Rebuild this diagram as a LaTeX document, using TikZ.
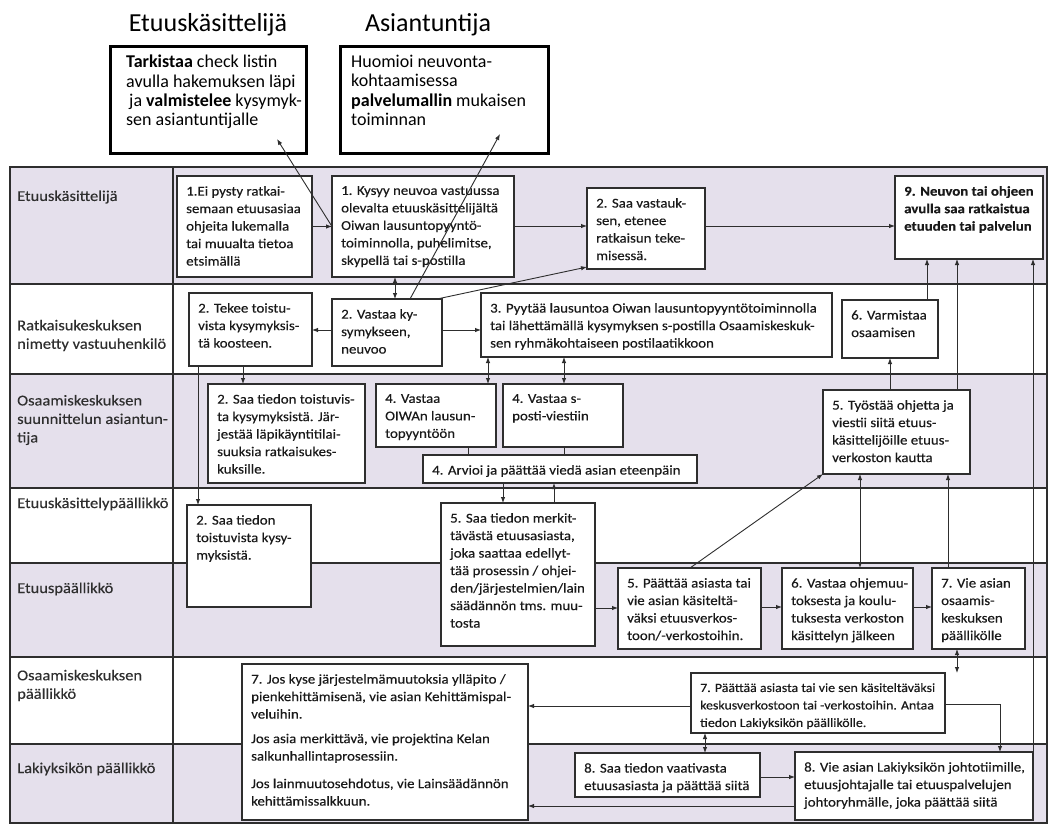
\documentclass[tikz,border=0pt]{standalone}
\usepackage{fontspec}
\setmainfont{Carlito}
\newfontfamily\boxfont[FakeStretch=1.1,FakeBold=0.3]{Carlito}
\usetikzlibrary{arrows.meta}
\definecolor{lane}{HTML}{E5E0EC}
\definecolor{ink}{HTML}{2E2E2E}
\tikzset{
  box/.style={draw=ink, line width=1.3pt, fill=white, inner sep=0pt, outer sep=0pt, anchor=north west},
  headbox/.style={draw=black, line width=3pt, fill=white, inner sep=0pt, outer sep=0pt, anchor=north west},
  txt/.style={anchor=north west, inner sep=0pt, align=left, font=\boxfont\fontsize{13.5}{17.5}\selectfont, text=black!90},
  smalltxt/.style={font=\boxfont\fontsize{12.6}{17.5}\selectfont},
  headtxt/.style={anchor=north west, inner sep=0pt, align=left, font=\fontsize{18}{19.3}\selectfont, text=black},
  title/.style={inner sep=0pt, font=\fontsize{26}{30}\selectfont, text=black},
  lbl/.style={anchor=west, inner sep=0pt, align=left, font=\boxfont\fontsize{15}{18.5}\selectfont, text=ink},
  tip/.style={-{Latex[length=6pt,width=4.5pt]}},
  con/.style={draw=ink, line width=0.9pt, tip},
  dcon/.style={draw=ink, line width=0.9pt, {Latex[length=6pt,width=4.5pt]}-{Latex[length=6pt,width=4.5pt]}},
  lnk/.style={draw=ink, line width=0.9pt},
  rule/.style={draw=ink, line width=1.2pt},
}
% process box: [text options], name, x1, y1, x2, y2, text (pixel-like units, y downwards)
\newcommand\procbox[7][]{%
  \node[box, minimum width={(#5-#3)*1pt}, minimum height={(#6-#4)*1pt}] (#2) at (#3,#4) {};
  \node[txt,#1] (#2-t) at (#3+9,#4+10) {#7};}
\begin{document}
\begin{tikzpicture}[x=1pt,y=-1pt]
\useasboundingbox (0,0) rectangle (1049,823);
\fill[white] (0,0) rectangle (1049,823);

% ---- swimlanes ----
\fill[lane] (10,167) rectangle (1047,284);
\fill[lane] (10,374) rectangle (1047,488);
\fill[lane] (10,563) rectangle (1047,657);
\fill[lane] (10,744) rectangle (1047,823);
\draw[rule] (10,167) rectangle (1047,823);
\foreach \yy in {284,374,488,563,657,744} \draw[rule] (10,\yy) -- (1047,\yy);
\draw[rule] (173,167) -- (173,823);

\node[lbl] (l1) at (17,197) {Etuuskäsittelijä};
\node[lbl] (l2) at (17,335.5) {Ratkaisukeskuksen\\nimetty vastuuhenkilö};
\node[lbl] (l3) at (17,420) {Osaamiskeskuksen\\suunnittelun asiantun-\\tija};
\node[lbl] (l4) at (17,504) {Etuuskäsittelypäällikkö};
\node[lbl] (l5) at (17,589) {Etuuspäällikkö};
\node[lbl] (l6) at (17,685.5) {Osaamiskeskuksen\\päällikkö};
\node[lbl] (l7) at (17,769) {Lakiyksikön päällikkö};

% ---- role notes on top ----
\node[title] (t1) at (208,25) {Etuuskäsittelijä};
\node[title] (t2) at (428,25) {Asiantuntija};
\node[headbox, minimum width=196pt, minimum height=107pt] (hA) at (110,46) {};
\node[headtxt] (hA-t) at (126,55) {\textbf{Tarkistaa} check listin\\avulla hakemuksen läpi\\\hspace{3pt}ja \textbf{valmistelee} kysymyk-\\sen asiantuntijalle};
\node[headbox, minimum width=208pt, minimum height=107pt] (hB) at (340,46) {};
\node[headtxt] (hB-t) at (351,55) {Huomioi neuvonta-\\kohtaamisessa\\\textbf{palvelumallin} mukaisen\\toiminnan};
\coordinate (hAtip) at (277,139);
\coordinate (hBtip) at (500,134);

% ---- Etuuskäsittelijä ----
\procbox{ei}{177}{176}{312}{277}{1.Ei pysty ratkai-\\semaan etuusasiaa\\ohjeita lukemalla\\tai muualta tietoa\\etsimällä}
\procbox{kysyy}{332}{176}{514}{277}{1. Kysyy neuvoa vastuussa\\olevalta etuuskäsittelijältä\\Oiwan lausuntopyyntö-\\toiminnolla, puhelimitse,\\skypellä tai s-postilla}
\procbox{saav}{587}{188}{705}{269}{2. Saa vastauk-\\sen, etenee\\ratkaisun teke-\\misessä.}
\procbox{n9}{895}{176}{1043}{259}{\textbf{9. Neuvon tai ohjeen}\\\textbf{avulla saa ratkaistua}\\\textbf{etuuden tai palvelun}}

% ---- Ratkaisukeskuksen vastuuhenkilö ----
\procbox{tekee}{189}{293}{312}{366}{2. Tekee toistu-\\vista kysymyksis-\\tä koosteen.}
\procbox{vastaa}{332}{299}{442}{366}{2. Vastaa ky-\\symykseen,\\neuvoo}
\procbox{pyytaa}{481}{293}{832}{357}{3. Pyytää lausuntoa Oiwan lausuntopyyntötoiminnolla\\tai lähettämällä kysymyksen s-postilla Osaamiskeskuk-\\sen ryhmäkohtaiseen postilaatikkoon}
\procbox{varm}{842}{300}{938}{358}{6. Varmistaa\\osaamisen}

% ---- Osaamiskeskuksen suunnittelun asiantuntija ----
\procbox{saatt}{208}{384}{365}{483}{2. Saa tiedon toistuvis-\\ta kysymyksistä. Jär-\\jestää läpikäyntitilai-\\suuksia ratkaisukes-\\kuksille.}
\procbox{vo}{376}{384}{496}{447}{4. Vastaa\\OIWAn lausun-\\topyyntöön}
\procbox{vs}{503}{384}{623}{447}{4. Vastaa s-\\posti-viestiin}
\procbox{arvioi}{423}{455}{697}{483}{4. Arvioi ja päättää viedä asian eteenpäin}
\procbox{tyosta}{823}{390}{970}{474}{5. Työstää ohjetta ja\\viestii siitä etuus-\\käsittelijöille etuus-\\verkoston kautta}

% ---- Etuuskäsittelypäällikkö / Etuuspäällikkö ----
\procbox{saat2}{187}{505}{311}{607}{2. Saa tiedon\\toistuvista kysy-\\myksistä.}
\procbox{saam}{441}{503}{595}{646}{5. Saa tiedon merkit-\\tävästä etuusasiasta,\\joka saattaa edellyt-\\tää prosessin / ohjei-\\den/järjestelmien/lain\\säädännön tms. muu-\\tosta}
\procbox{paat5}{618}{568}{761}{649}{5. Päättää asiasta tai\\vie asian käsiteltä-\\väksi etuusverkos-\\toon/-verkostoihin.}
\procbox{vast6}{782}{568}{913}{649}{6. Vastaa ohjemuu-\\toksesta ja koulu-\\tuksesta verkoston\\käsittelyn jälkeen}
\procbox{vie7}{932}{568}{1025}{649}{7. Vie asian\\osaamis-\\keskuksen\\päällikölle}

% ---- Osaamiskeskuksen päällikkö / Lakiyksikön päällikkö ----
\procbox{jos}{242}{664}{528}{820}{7. Jos kyse järjestelmämuutoksia ylläpito /\\pienkehittämisenä, vie asian Kehittämispal-\\veluihin.\\[7pt]Jos asia merkittävä, vie projektina Kelan\\salkunhallintaprosessiin.\\[10pt]Jos lainmuutosehdotus, vie Lainsäädännön\\kehittämissalkkuun.}
\procbox[smalltxt]{paat7}{691}{673}{945}{733}{7. Päättää asiasta tai vie sen käsiteltäväksi\\keskusverkostoon tai -verkostoihin. Antaa\\tiedon Lakiyksikön päällikölle.}
\procbox{saa8}{575}{753}{760}{797}{8. Saa tiedon vaativasta\\etuusasiasta ja päättää siitä}
\procbox{vie8}{795}{752}{1033}{820}{8. Vie asian Lakiyksikön johtotiimille,\\etuusjohtajalle tai etuuspalvelujen\\johtoryhmälle, joka päättää siitä}

% ---- connectors ----
\draw[con] (ei.east) -- (kysyy.west);
\draw[con] (kysyy.west) -- (hAtip);
\draw[con] (kysyy.east |- 0,226) -- (saav.west |- 0,226);
\draw[con] (saav.east |- 0,226) -- (n9.west |- 0,226);
\draw[con] (vastaa.north -| 410,0) -- (hBtip);
\draw[con] (vastaa.north -| 437,0) -- (saav.west |- 0,267);
\draw[dcon] (kysyy.south -| 395,0) -- (vastaa.north -| 395,0);
\draw[con] (vastaa.west |- 0,330) -- (tekee.east |- 0,330);
\draw[con] (vastaa.east |- 0,330) -- (pyytaa.west |- 0,330);
\draw[con] (varm.north -| 927,0) -- (n9.south -| 927,0);
\draw[con] (tyosta.north -| 957,0) -- (n9.south -| 957,0);
\draw[con] (tyosta.north -| 890,0) -- (varm.south -| 890,0);
\draw[con] (vie8.north east) -- (n9.south -| vie8.north east);
\draw[con] (tekee.south -| 243,0) -- (saatt.north -| 243,0);
\draw[con] (tekee.south -| 198,0) -- (saat2.north -| 198,0);
\draw[dcon] (pyytaa.south -| 488,0) -- (vo.north -| 488,0);
\draw[dcon] (pyytaa.south -| 564,0) -- (vs.north -| 564,0);
\draw[lnk] (vo.south -| 468,0) -- (arvioi.north -| 468,0);
\draw[lnk] (vs.south -| 564,0) -- (arvioi.north -| 564,0);
\draw[con] (arvioi.south -| 503,0) -- (saam.north -| 503,0);
\draw[con] (saam.north -| 554,0) -- (arvioi.south -| 554,0);
\draw[con] (saam.east |- 0,608) -- (paat5.west |- 0,608);
\draw[con] (paat5.north -| 690,0) -- (tyosta.south west);
\draw[con] (paat5.east |- 0,607) -- (vast6.west |- 0,607);
\draw[con] (vast6.east |- 0,607) -- (vie7.west |- 0,607);
\draw[dcon] (vast6.north -| 860,0) -- (tyosta.south -| 860,0);
\draw[con] (vie7.north -| 948,0) -- (tyosta.south -| 948,0);
\draw[dcon] (vie7.south -| 957,0) -- (paat7.north -| 957,0);
\draw[con] (paat7.west |- 0,706) -- (jos.east |- 0,706);
\draw[con] (paat7.east |- 0,704) -| (vie8.north -| 1000,0);
\draw[dcon] (paat7.south -| 705,0) -- (saa8.north -| 705,0);
\draw[con] (saa8.east |- 0,777) -- (vie8.west |- 0,777);
\draw[con] (vie8.west |- 0,806) -- (jos.east |- 0,806);
\end{tikzpicture}
\end{document}
